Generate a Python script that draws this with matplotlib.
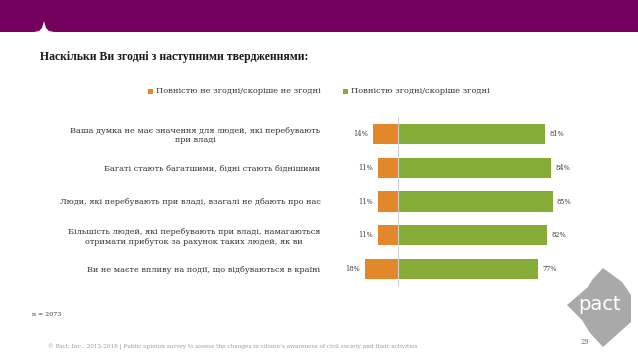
import matplotlib
matplotlib.use('Agg')
from matplotlib import pyplot as plt
from matplotlib.patches import Polygon, Rectangle
import numpy as np

# data
categories = [
    'Ваша думка не має значення для людей, які перебувають\nпри владі',
    'Багаті стають багатшими, бідні стають біднішими',
    'Люди, які перебувають при владі, взагалі не дбають про нас',
    'Більшість людей, які перебувають при владі, намагаються\nотримати прибуток за рахунок таких людей, як ви',
    'Ви не маєте впливу на події, що відбуваються в країні',
]
disagree = [14, 11, 11, 11, 18]
agree = [81, 84, 85, 82, 77]
series_names = ['Повністю не згодні/скоріше не згодні', 'Повністю згодні/скоріше згодні']

title = 'Наскільки Ви згодні з наступними твердженнями:'
note = 'n = 2073'
footer = ('© Pact, Inc., 2015-2019 | Public opinion survey to assess the changes in citizen’s '
          'awareness of civil society and their activities')
page = '29'

ORANGE = '#E3882A'
GREEN = '#86AB37'
PURPLE = '#75005E'
W, H = 638, 359

plt.rcParams['font.family'] = ['DejaVu Serif']

fig = plt.figure(figsize=(W / 100, H / 100), dpi=100)
fig.patch.set_facecolor('white')


def px(x, y):
    return x / W, 1 - y / H


# purple banner with the little white notch
fig.patches.append(Rectangle(px(0, 32), 1, 32 / H, transform=fig.transFigure,
                             facecolor=PURPLE, edgecolor='none', zorder=0))
notch = [(34, 32), (39, 31), (42, 28), (43.5, 23), (44, 21), (44.5, 23), (46, 28), (49, 31), (54, 32)]
fig.patches.append(Polygon([px(*p) for p in notch], closed=True, transform=fig.transFigure,
                           facecolor='white', edgecolor='none', zorder=1))

fig.text(*px(40, 57), title, fontsize=8.5, fontweight='bold', color='#1a1a1a',
         va='center', ha='left', family='Liberation Serif')

# chart area
ax = fig.add_axes([340 / W, 1 - 286 / H, 260 / W, 169 / H])
y = np.arange(len(categories))
ax.barh(y, [-d for d in disagree], height=0.6, color=ORANGE)
ax.barh(y, agree, height=0.6, color=GREEN)
ax.axvline(0, color='#d0d0d0', linewidth=0.8, zorder=3)

ax.set_xlim(-31.9, 111)
ax.set_ylim(len(categories) - 0.5, -0.5)
for s in ax.spines.values():
    s.set_visible(False)
ax.set_xticks([])
ax.set_yticks(y)
ax.set_yticklabels(categories, fontsize=5.85, color='#333333', multialignment='center')
ax.tick_params(axis='y', length=0, pad=14)

for i in range(len(categories)):
    ax.annotate(f'{disagree[i]}%', (-disagree[i], i), xytext=(-3.5, 0), textcoords='offset points',
                ha='right', va='center', fontsize=4.8, color='#404040')
    ax.annotate(f'{agree[i]}%', (agree[i], i), xytext=(3, 0), textcoords='offset points',
                ha='left', va='center', fontsize=4.8, color='#404040')

# legend
fig.patches.append(Rectangle(px(148, 94), 5 / W, 5 / H, transform=fig.transFigure,
                             facecolor=ORANGE, edgecolor='none'))
fig.text(*px(156, 91), series_names[0], fontsize=5.95, color='#333333', va='center')
fig.patches.append(Rectangle(px(343, 94), 5 / W, 5 / H, transform=fig.transFigure,
                             facecolor=GREEN, edgecolor='none'))
fig.text(*px(351, 91), series_names[1], fontsize=5.95, color='#333333', va='center')

fig.text(*px(32, 315), note, fontsize=4.5, color='#333333', va='center')
fig.text(*px(48, 347), footer, fontsize=4.15, color='#999999', va='center')

# pact logo
logo = [(603, 268), (622, 282), (631, 295), (631, 322), (603, 347), (590, 333),
        (582, 320), (567, 305), (588, 287), (592, 280)]
fig.patches.append(Polygon([px(*p) for p in logo], closed=True, transform=fig.transFigure,
                           facecolor='#A9A9A9', edgecolor='none'))
fig.text(*px(600, 304), 'pact', fontsize=14, color='white', family='DejaVu Sans',
         ha='center', va='center')
fig.text(*px(585, 342), page, fontsize=4.8, color='#666666', ha='center', va='center')

fig.savefig('out.png', dpi=100)
